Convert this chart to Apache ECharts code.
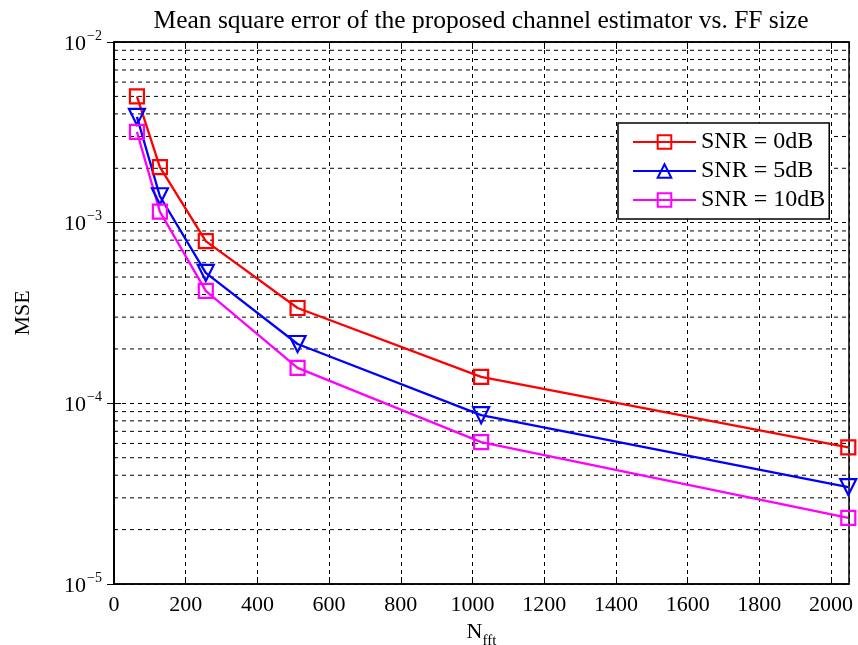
<!DOCTYPE html>
<html>
<head>
<meta charset="utf-8">
<script src="https://cdn.jsdelivr.net/npm/echarts@6/dist/echarts.min.js"></script>
<style>html,body{margin:0;padding:0;background:#fff}#c{width:858px;height:645px}</style>
</head>
<body>
<div id="c"></div>
<script>
var nfft = [64, 128, 256, 512, 1024, 2048];
var snr0 = [5.0e-3, 2.03e-3, 7.9e-4, 3.37e-4, 1.40e-4, 5.7e-5];
var snr5 = [3.85e-3, 1.40e-3, 5.27e-4, 2.13e-4, 8.6e-5, 3.44e-5];
var snr10 = [3.18e-3, 1.15e-3, 4.19e-4, 1.57e-4, 6.1e-5, 2.32e-5];
var seriesNames = ['SNR = 0dB', 'SNR = 5dB', 'SNR = 10dB'];
var xRange = [0, 2050];
var decades = [1e-5, 1e-4, 1e-3];
var minorMultipliers = [2, 3, 4, 5, 6, 7, 8, 9];

var FONT = '"Liberation Serif", "Times New Roman", serif';

function pairs(ys) { return nfft.map(function (x, i) { return [x, ys[i]]; }); }

function mkSeries(name, ys, color, symbol, rotate) {
  return {
    name: name, type: 'line', data: pairs(ys),
    symbol: symbol, symbolSize: symbol === 'rect' ? 14 : 16, symbolRotate: rotate,
    lineStyle: { color: color, width: 2.3 },
    itemStyle: { color: 'rgba(0,0,0,0)', borderColor: color, borderWidth: 2.2 },
    emphasis: { disabled: true },
    z: 5
  };
}

var gridSeries = [];
decades.forEach(function (d) {
  minorMultipliers.forEach(function (m) {
    gridSeries.push({
      type: 'line', name: 'minor-grid', silent: true, symbol: 'none', z: 1,
      data: [[xRange[0], d * m], [xRange[1], d * m]],
      lineStyle: { color: '#000', type: [4, 4], width: 1 },
      emphasis: { disabled: true }, tooltip: { show: false }
    });
  });
});

var chart = echarts.init(document.getElementById('c'), null, { renderer: 'canvas' });
chart.setOption({
  animation: false,
  backgroundColor: '#fff',
  title: {
    text: 'Mean square error of the proposed channel estimator vs. FF size',
    left: 476, top: 3, textAlign: 'center',
    textStyle: { fontFamily: FONT, fontSize: 25.5, fontWeight: 'normal', color: '#000' }
  },
  grid: { left: 114, right: 9, top: 42, bottom: 61, show: true, borderColor: '#000', borderWidth: 1.5, backgroundColor: '#fff', containLabel: false, outerBoundsMode: 'none' },
  legend: {
    left: 618, top: 123, orient: 'vertical',
    data: seriesNames,
    symbolRotate: 0,
    itemWidth: 63, itemHeight: 17, itemGap: 5,
    padding: [7, 4, 7, 14],
    borderColor: '#000', borderWidth: 1.5, backgroundColor: '#fff',
    selectedMode: false,
    textStyle: { fontFamily: FONT, fontSize: 24, color: '#000' }
  },
  xAxis: [{
    type: 'value', min: xRange[0], max: xRange[1], interval: 200,
    name: '{n|N}{s|fft}', nameLocation: 'middle', nameGap: 37,
    nameTextStyle: { rich: { n: { fontFamily: FONT, fontSize: 22, color: '#000' }, s: { fontFamily: FONT, fontSize: 15, color: '#000', verticalAlign: 'bottom', padding: [0, 0, -6, 0] } } },
    axisLine: { lineStyle: { color: '#000', width: 1.5 } },
    axisTick: { inside: true, length: 7, lineStyle: { color: '#000' } },
    axisLabel: { fontFamily: FONT, fontSize: 22, color: '#000', margin: 10, showMaxLabel: false, formatter: function (v) { return String(v); } },
    splitLine: { show: true, lineStyle: { color: '#000', type: [4, 4], width: 1 } }
  }, {
    type: 'value', position: 'top', min: xRange[0], max: xRange[1], interval: 200,
    axisLine: { lineStyle: { color: '#000', width: 1.5 } },
    axisTick: { inside: true, length: 7, lineStyle: { color: '#000' } },
    axisLabel: { show: false }, splitLine: { show: false }
  }],
  yAxis: [{
    type: 'log', logBase: 10, min: 1e-5, max: 1e-2,
    name: 'MSE', nameLocation: 'middle', nameGap: 80,
    nameTextStyle: { fontFamily: FONT, fontSize: 22, color: '#000' },
    axisLine: { show: true, lineStyle: { color: '#000', width: 1.5 } },
    axisTick: { show: true, inside: true, length: 7, lineStyle: { color: '#000' } },
    minorTick: { show: false },
    axisLabel: {
      margin: 12,
      formatter: function (v) {
        var e = Math.round(Math.log10(v));
        return '{b|10}{e|\u2212' + Math.abs(e) + '}';
      },
      rich: {
        b: { fontFamily: FONT, fontSize: 22, color: '#000', padding: [4, 0, 0, 0] },
        e: { fontFamily: FONT, fontSize: 14, color: '#000', verticalAlign: 'bottom', padding: [0, 0, 12, 1] }
      }
    },
    splitLine: { show: true, lineStyle: { color: '#000', type: [4, 4], width: 1 } }
  }, {
    type: 'log', logBase: 10, min: 1e-5, max: 1e-2, position: 'right',
    axisLine: { show: true, lineStyle: { color: '#000', width: 1.5 } },
    axisTick: { show: true, inside: true, length: 7, lineStyle: { color: '#000' } },
    axisLabel: { show: false }, splitLine: { show: false }
  }],
  series: gridSeries.concat([
    mkSeries(seriesNames[0], snr0, '#ff0000', 'rect', 0),
    mkSeries(seriesNames[1], snr5, '#0000ff', 'triangle', 180),
    mkSeries(seriesNames[2], snr10, '#ff00ff', 'rect', 0)
  ])
});
</script>
</body>
</html>
